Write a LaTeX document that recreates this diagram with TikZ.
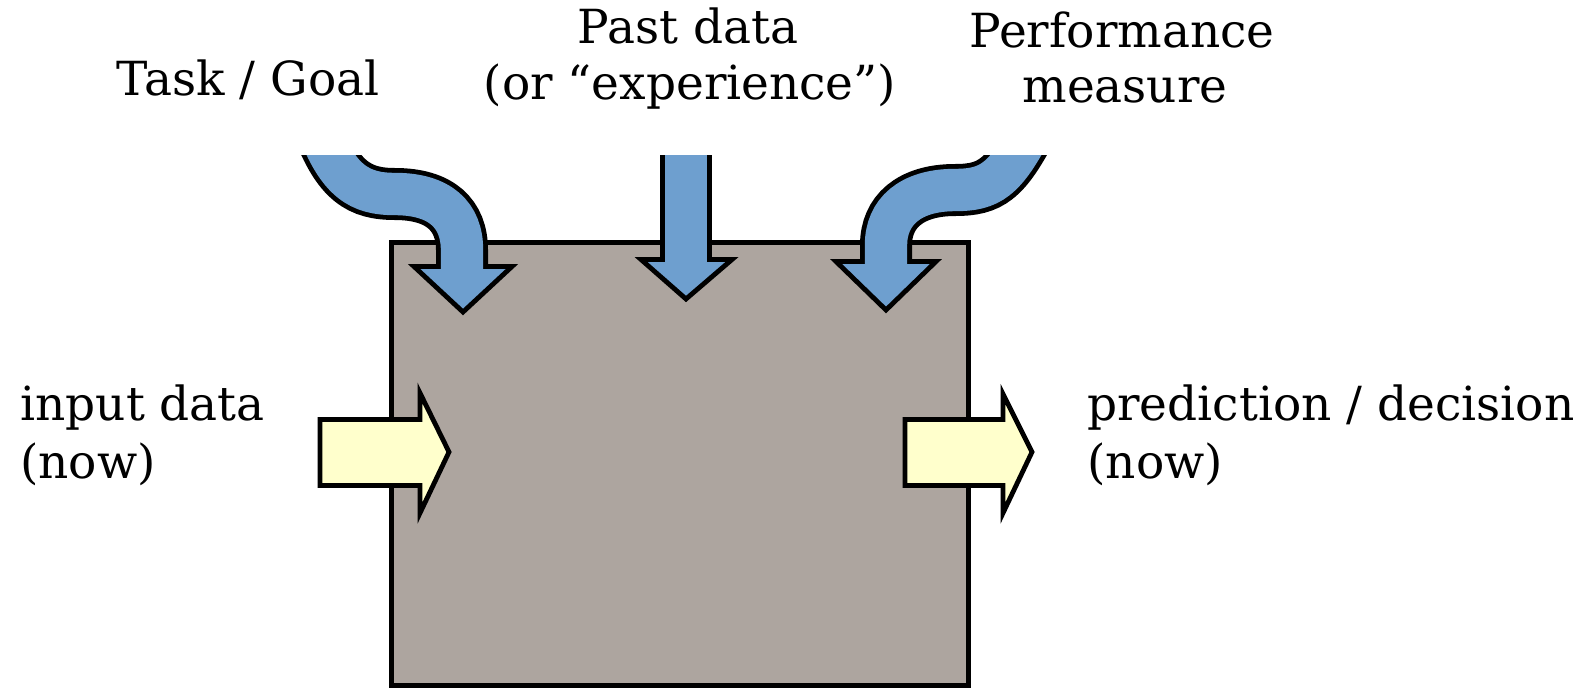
\documentclass[tikz,border=0pt]{standalone}
\usepackage{fontspec}
\setmainfont{DejaVu Serif}

\definecolor{arrowblue}{HTML}{6E9FCF}
\definecolor{boxgray}{HTML}{ADA59F}
\definecolor{inyellow}{HTML}{FFFFCC}

\tikzset{
  lbl/.style={font=\fontsize{23.5}{28}\selectfont, inner sep=0pt},
  rim/.style={draw=black, line width=2.4pt, line join=miter},
  shaftout/.style={draw=black, line width=26pt},
  shaftin/.style={draw=arrowblue, line width=21.2pt},
}

\begin{document}
\begin{tikzpicture}[x=0.5pt, y=-0.5pt]
\useasboundingbox (0,0) rectangle (1593,691);

% the learner
\filldraw[rim, fill=boxgray] (391.4,242.4) rectangle (968.6,685.6);

% blue arrows coming in from above
\begin{scope}
  \clip (0,155) rectangle (1593,691);
  % task / goal
  \draw[shaftout] (317,125) .. controls (338,182) and (360,194) .. (395,194)
    .. controls (440,194) and (462,215) .. (462,250) -- (462,269);
  \filldraw[rim, fill=arrowblue] (414,266.5) -- (463,312) -- (512,266.5) -- cycle;
  \draw[shaftin] (317,125) .. controls (338,182) and (360,194) .. (395,194)
    .. controls (440,194) and (462,215) .. (462,250) -- (462,269);
  % past data
  \draw[shaftout] (686,140) -- (686,262);
  \filldraw[rim, fill=arrowblue] (641,259.5) -- (686,299) -- (732,259.5) -- cycle;
  \draw[shaftin] (686,140) -- (686,262);
  % performance measure
  \draw[shaftout] (1032,128) .. controls (1005,180) and (990,190) .. (955,190)
    .. controls (910,190) and (886,212) .. (886,245) -- (886,264);
  \filldraw[rim, fill=arrowblue] (836,261.5) -- (886,310) -- (936,261.5) -- cycle;
  \draw[shaftin] (1032,128) .. controls (1005,180) and (990,190) .. (955,190)
    .. controls (910,190) and (886,212) .. (886,245) -- (886,264);
\end{scope}

% yellow arrows in and out
\filldraw[rim, fill=inyellow] (320,419.5) -- (420,419.5) -- (420,393) -- (449,452)
  -- (420,513) -- (420,485.5) -- (320,485.5) -- cycle;
\filldraw[rim, fill=inyellow] (905,419.5) -- (1003,419.5) -- (1003,394) -- (1032,452)
  -- (1003,513) -- (1003,485.5) -- (905,485.5) -- cycle;

% labels
\node[lbl, anchor=base] (task) at (248,95) {Task / Goal};
\node[lbl, anchor=base] (past) at (688,43) {Past data};
\node[lbl, anchor=base] (pastb) at (690,99) {(or “experience”)};
\node[lbl, anchor=base] (perf) at (1122,47) {Performance};
\node[lbl, anchor=base] (perfb) at (1125,102) {measure};
\node[lbl, anchor=base west] (input) at (20,420) {input data};
\node[lbl, anchor=base west] (inputb) at (20,478) {(now)};
\node[lbl, anchor=base west] (pred) at (1087,420) {prediction / decision};
\node[lbl, anchor=base west] (predb) at (1087,478) {(now)};
\end{tikzpicture}
\end{document}
